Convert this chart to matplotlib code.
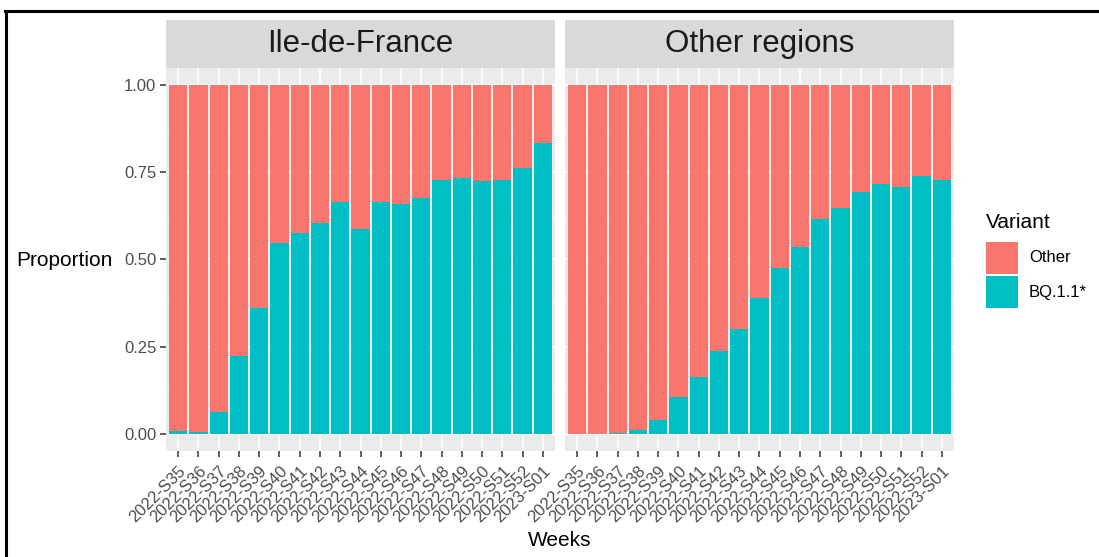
import matplotlib.pyplot as plt
from matplotlib.patches import Rectangle
from matplotlib.lines import Line2D
import numpy as np

plt.rcParams['font.family'] = ['Liberation Sans', 'DejaVu Sans']

# Data
weeks = ['2022-S35', '2022-S36', '2022-S37', '2022-S38', '2022-S39', '2022-S40',
         '2022-S41', '2022-S42', '2022-S43', '2022-S44', '2022-S45', '2022-S46',
         '2022-S47', '2022-S48', '2022-S49', '2022-S50', '2022-S51', '2022-S52',
         '2023-S01']
regions = ['Ile-de-France', 'Other regions']
bq_idf = [0.008, 0.006, 0.061, 0.224, 0.362, 0.546, 0.577, 0.605, 0.666, 0.587,
          0.666, 0.660, 0.678, 0.727, 0.733, 0.725, 0.727, 0.763, 0.834]
bq_other = [0.0, 0.0, 0.002, 0.011, 0.039, 0.104, 0.163, 0.238, 0.301, 0.389,
            0.475, 0.535, 0.616, 0.649, 0.693, 0.716, 0.709, 0.741, 0.728]
variants = ['Other', 'BQ.1.1*']
colors = ['#F8766D', '#00BFC4']

W, H = 1099, 557
fig = plt.figure(figsize=(W / 100, H / 100), dpi=100)

def fx(px):
    return px / W

def fy(py):
    return 1 - py / H

panel_left = [166, 565]
panel_w = 389
top, bottom = 68, 451
strip_top = 20

x = np.arange(len(weeks))
for i, (reg, bq) in enumerate(zip(regions, [bq_idf, bq_other])):
    bq = np.array(bq)
    other = 1 - bq
    ax = fig.add_axes([fx(panel_left[i]), fy(bottom), fx(panel_w), (bottom - top) / H])
    ax.set_facecolor('#EBEBEB')
    ax.bar(x, bq, width=0.9, color=colors[1], zorder=3)
    ax.bar(x, other, bottom=bq, width=0.9, color=colors[0], zorder=3)
    ax.set_xlim(-0.6, len(weeks) - 0.4)
    ax.set_ylim(-0.05, 1.05)
    ax.set_yticks([0, 0.25, 0.5, 0.75, 1.0])
    ax.set_yticks([0.125, 0.375, 0.625, 0.875], minor=True)
    ax.grid(True, which='major', color='white', linewidth=1.1, zorder=0)
    ax.grid(True, which='minor', axis='y', color='white', linewidth=0.5, zorder=0)
    ax.set_axisbelow(True)
    for s in ax.spines.values():
        s.set_visible(False)
    ax.set_xticks(x)
    ax.set_xticklabels(weeks, rotation=45, ha='right', va='top',
                       rotation_mode='anchor', fontsize=12, color='#4D4D4D')
    ax.tick_params(axis='both', which='major', length=4, width=1.1, color='#333333', pad=3)
    ax.tick_params(axis='x', which='major', pad=5)
    ax.tick_params(axis='y', which='minor', length=0)
    if i == 0:
        ax.set_yticklabels(['0.00', '0.25', '0.50', '0.75', '1.00'], fontsize=12, color='#4D4D4D')
    else:
        ax.tick_params(axis='y', which='major', length=0, labelleft=False)
    # facet strip
    sax = fig.add_axes([fx(panel_left[i]), fy(top), fx(panel_w), (top - strip_top) / H])
    sax.set_facecolor('#D9D9D9')
    sax.set_xticks([])
    sax.set_yticks([])
    for s in sax.spines.values():
        s.set_visible(False)
    sax.text(0.5, 0.5, reg, ha='center', va='center', fontsize=22.5, color='#1A1A1A',
             transform=sax.transAxes)

fig.text(fx(113), fy(260), 'Proportion', ha='right', va='center', fontsize=15, color='black')
fig.text(fx(560), fy(541), 'Weeks', ha='center', va='center', fontsize=15, color='black')

# legend
fig.text(fx(986), fy(222), 'Variant', ha='left', va='center', fontsize=15, color='black')
key_y = [242, 276]
for col, lab, ky in zip(colors, variants, key_y):
    fig.patches.append(Rectangle((fx(986), fy(ky + 32)), fx(32), 32 / H, facecolor=col,
                                 edgecolor='none', transform=fig.transFigure))
    fig.text(fx(1029), fy(ky + 16), lab, ha='left', va='center', fontsize=12, color='black')

# outer frame (top and left lines)
fig.lines.append(Line2D([fx(5), 1], [fy(11), fy(11)], color='black', linewidth=2.2,
                        transform=fig.transFigure))
fig.lines.append(Line2D([fx(6), fx(6)], [fy(11), 0], color='black', linewidth=2.2,
                        transform=fig.transFigure))

fig.savefig('out.png', dpi=100, facecolor='white')
